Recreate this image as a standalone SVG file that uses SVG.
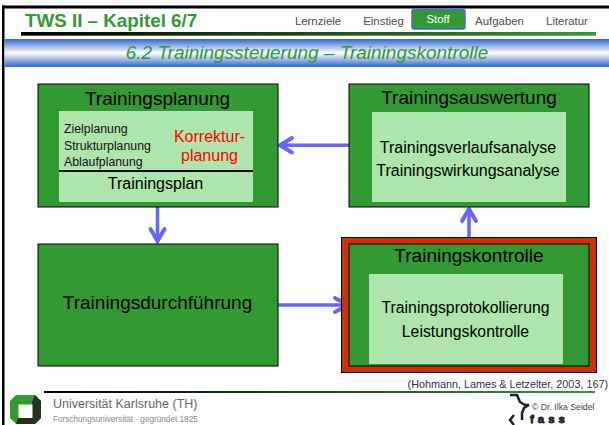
<svg xmlns="http://www.w3.org/2000/svg" width="609" height="425" viewBox="0 0 609 425">
<style>
text{font-family:"Liberation Sans",Arial,sans-serif}
.box{fill:#339933;stroke:#000;stroke-width:1}
.in{fill:#ade5ad}
.t{fill:#000;text-anchor:middle}
.h{font-size:19px}
.b{font-size:16px}
.s{font-size:12.300px;fill:#111}
.red{font-size:16px;fill:#ff0000;text-anchor:middle}
.nav{fill:#4d4d4d;font-size:11.400px;text-anchor:middle}
.arr{fill:none;stroke:#6666ff;stroke-width:3.500}
.head{fill:none;stroke:#6666ff;stroke-width:4;stroke-linecap:round;stroke-linejoin:miter}
</style>
<defs>
<linearGradient id="hl" x1="0" x2="1" y1="0" y2="0"><stop offset="0" stop-color="#000"/><stop offset="1" stop-color="#339933"/></linearGradient>
<linearGradient id="bar" x1="0" x2="0" y1="0" y2="1"><stop offset="0" stop-color="#3366cc"/><stop offset=".5" stop-color="#fff"/><stop offset="1" stop-color="#3366cc"/></linearGradient>
</defs>
<rect width="609" height="425" fill="#fff"/>
<g id="frame">
<rect x="2" y="5.500" width="607" height="3" fill="#000"/>
<rect x="2" y="5.500" width="2.500" height="419.500" fill="#000"/>
<rect x="21" y="32" width="575" height="3.700" fill="url(#hl)"/>
<rect x="4.500" y="39" width="604.500" height="28" fill="url(#bar)"/>
<rect x="44" y="391" width="551" height="2" fill="url(#hl)"/>
</g>
<g id="header">
<text x="25" y="27" font-size="18.800" font-weight="bold" fill="#339933">TWS II – Kapitel 6/7</text>
<text class="nav" x="318" y="25">Lernziele</text>
<text class="nav" x="383.500" y="25">Einstieg</text>
<g id="nav-stoff"><rect x="412" y="9.500" width="53" height="19.500" rx="2" fill="#339933" stroke="#4d66dd" stroke-width="1.500"/>
<text x="438" y="23" font-size="11.400" fill="#fff" text-anchor="middle">Stoff</text></g>
<text class="nav" x="499.500" y="25">Aufgaben</text>
<text class="nav" x="567" y="25">Literatur</text>
<text x="307" y="59" font-size="19" font-style="italic" fill="#339933" text-anchor="middle">6.2 Trainingssteuerung – Trainingskontrolle</text>
</g>
<g id="connectors">
<path class="arr" d="M349 145.300H282"/><path class="head" d="M292 138L280 145.300L292 152.500"/>
<path class="arr" d="M157.500 207V240"/><path class="head" d="M150.500 229L157.500 241L164.500 229"/>
<path class="arr" d="M278 305H346"/><path class="head" d="M335 298L348 305L335 312"/>
<path class="arr" d="M469 243V210"/><path class="head" d="M462 221L469 209L476 221"/>
</g>
<g id="trainingsplanung">
<rect class="box" x="38" y="84" width="240" height="123"/>
<text class="t h" x="157.500" y="105">Trainingsplanung</text>
<rect class="in" x="59" y="111" width="194" height="91"/>
<text class="s" x="64" y="133">Zielplanung</text>
<text class="s" x="64" y="149.500">Strukturplanung</text>
<text class="s" x="64" y="166">Ablaufplanung</text>
<text class="red" x="209.500" y="142">Korrektur-</text>
<text class="red" x="209.500" y="161">planung</text>
<rect x="59" y="170" width="194" height="2" fill="#000"/>
<text class="t b" x="155.500" y="189">Trainingsplan</text>
</g>
<g id="trainingsauswertung">
<rect class="box" x="349" y="84" width="240" height="123"/>
<text class="t h" x="469" y="104">Trainingsauswertung</text>
<rect class="in" x="372" y="112" width="194" height="90"/>
<text class="t b" x="468" y="153">Trainingsverlaufsanalyse</text>
<text class="t b" x="468" y="175.500">Trainingswirkungsanalyse</text>
</g>
<g id="trainingsdurchfuehrung">
<rect class="box" x="38" y="244" width="240" height="122"/>
<text class="t h" x="157.500" y="309">Trainingsdurchführung</text>
</g>
<g id="trainingskontrolle">
<rect x="341.500" y="237.500" width="255" height="135" fill="#cc3300" stroke="#000" stroke-width="1"/>
<rect class="box" x="349" y="244" width="240" height="122"/>
<text class="t h" x="469" y="262">Trainingskontrolle</text>
<rect class="in" x="369" y="274" width="194" height="90"/>
<text class="t" x="465.500" y="313" font-size="15.800">Trainingsprotokollierung</text>
<text class="t" x="465.500" y="337" font-size="15.800">Leistungskontrolle</text>
</g>
<g id="footer">
<text x="608" y="388" font-size="10.800" fill="#333" text-anchor="end">(Hohmann, Lames &amp; Letzelter, 2003, 167)</text>
<path d="M16 395H35L41 401V418L35 424H16L10 418V401Z" fill="#339933"/>
<path d="M35 395L41 401V418L35 424H16L18 418H32V402Z" fill="#22331f"/>
<rect x="18.500" y="404.500" width="14" height="13.500" fill="#fff"/>
<text x="53" y="408" font-size="12.500" fill="#666">Universität Karlsruhe (TH)</text>
<text x="53" y="422" font-size="8.200" fill="#888">Forschungsuniversität · gegründet 1825</text>
<text x="532" y="410" font-size="8.700" fill="#444">© Dr. Ilka Seidel</text>
<path d="M510 395H517L520 402L525 405H529M529 405L524 408L522 413V420" fill="none" stroke="#222" stroke-width="2.500"/>
<path d="M514 415L510 420L514 425" fill="none" stroke="#222" stroke-width="2.500"/>
<text x="530" y="422.500" font-size="11.500" font-weight="bold" fill="#222" stroke="#222" stroke-width=".8" letter-spacing="4">fass</text>
</g>
</svg>
